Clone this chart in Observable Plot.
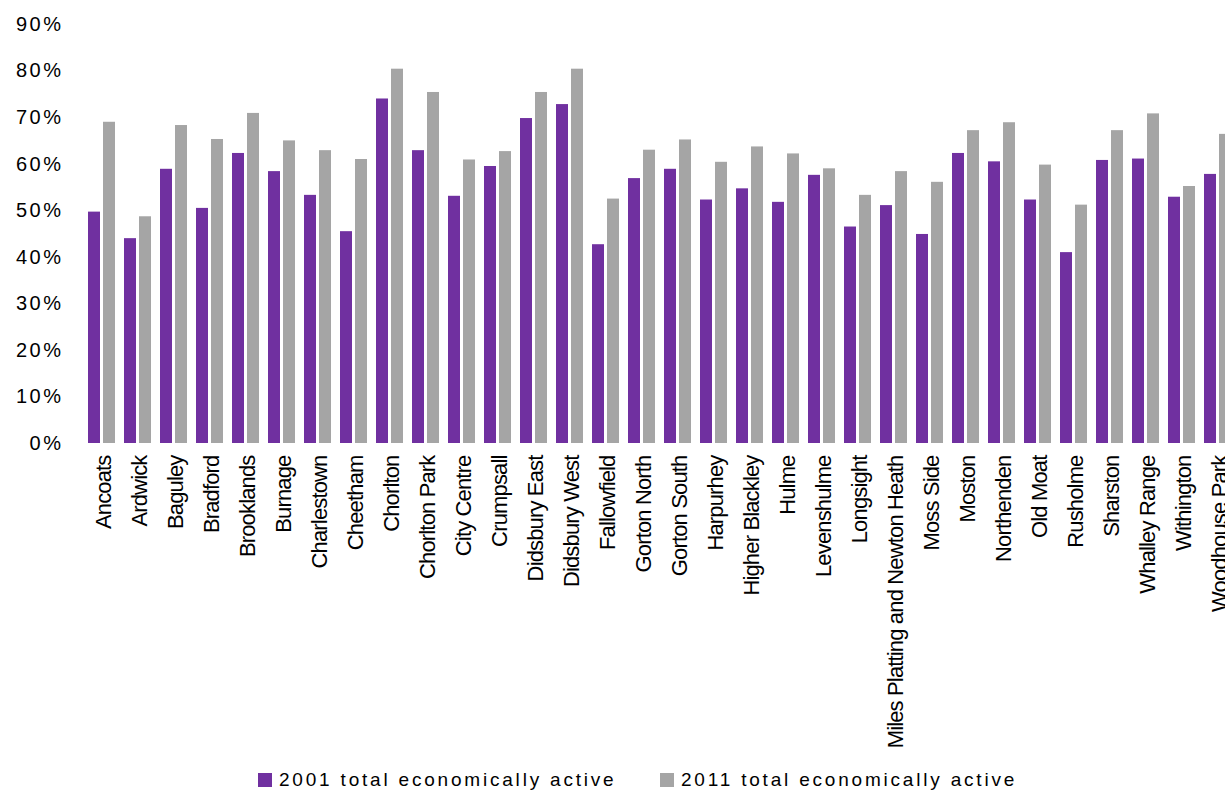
<!DOCTYPE html>
<html>
<head>
<meta charset="utf-8">
<script src="https://cdn.jsdelivr.net/npm/d3@7"></script>
<script src="https://cdn.jsdelivr.net/npm/@observablehq/plot@0.6"></script>
<style>
  html, body { margin: 0; padding: 0; background: #fff; }
  #wrap { position: relative; width: 1225px; height: 791px; overflow: hidden; font-family: "Liberation Sans", Arial, sans-serif; }
  #chart svg { display: block; }
  g[aria-label="y-axis tick label"] text { letter-spacing: 2.5px; }
  g[aria-label="text"] text { letter-spacing: -0.85px; }
  .legend { position: absolute; top: 769px; font-size: 19px; letter-spacing: 2.8px; color: #000; white-space: nowrap; line-height: 22px; }
  .legend .sw { display: inline-block; width: 14px; height: 14px; margin-right: 7px; vertical-align: -1px; }
</style>
</head>
<body>
<div id="wrap">
  <div id="chart"></div>
  <div class="legend" style="left:258px"><span class="sw" style="background:#7030A0"></span>2001 total economically active</div>
  <div class="legend" style="left:660px"><span class="sw" style="background:#A5A5A5"></span>2011 total economically active</div>
</div>
<script>
const wards = ["Ancoats","Ardwick","Baguley","Bradford","Brooklands","Burnage","Charlestown","Cheetham","Chorlton","Chorlton Park","City Centre","Crumpsall","Didsbury East","Didsbury West","Fallowfield","Gorton North","Gorton South","Harpurhey","Higher Blackley","Hulme","Levenshulme","Longsight","Miles Platting and Newton Heath","Moss Side","Moston","Northenden","Old Moat","Rusholme","Sharston","Whalley Range","Withington","Woodhouse Park"];
const active2001 = [49.7,44.0,58.9,50.5,62.3,58.4,53.3,45.5,74.0,62.9,53.1,59.5,69.8,72.8,42.7,56.9,58.9,52.3,54.7,51.8,57.6,46.5,51.1,44.9,62.3,60.5,52.3,41.0,60.8,61.1,52.9,57.8];
const active2011 = [69.0,48.7,68.3,65.3,70.9,65.0,62.9,61.0,80.4,75.4,60.9,62.7,75.4,80.4,52.5,63.0,65.2,60.4,63.7,62.2,59.0,53.3,58.4,56.1,67.2,68.9,59.8,51.2,67.2,70.8,55.2,66.4];
const yTicks = [0,0.1,0.2,0.3,0.4,0.5,0.6,0.7,0.8,0.9];

const rows = wards.map((w, i) => ({ward: w, v2001: active2001[i] / 100, v2011: active2011[i] / 100}));

const chart = Plot.plot({
  width: 1225,
  height: 766,
  marginTop: 24,
  marginBottom: 323,
  marginLeft: 81,
  marginRight: 0,
  style: {fontFamily: "Liberation Sans, Arial, sans-serif", color: "#000", background: "#fff", overflow: "visible"},
  x: {type: "band", domain: wards, range: [81, 1236.2], padding: 0, axis: null},
  y: {domain: [0, 0.9], axis: null},
  marks: [
    Plot.ruleY(yTicks.filter(d => d > 0), {x1: 81, x2: 1225, stroke: "#cfcfcf", strokeWidth: 1.6}),
    Plot.barY(rows, {x: "ward", y: "v2001", fill: "#7030A0", insetLeft: 5, insetRight: 19}),
    Plot.barY(rows, {x: "ward", y: "v2011", fill: "#A5A5A5", insetLeft: 20, insetRight: 4}),
    Plot.ruleY([0], {x1: 81, x2: 1225, stroke: "#8a8a8a", strokeWidth: 2}),
    Plot.axisY(yTicks, {tickSize: 0, tickPadding: 0, dx: -18, fontSize: 20, tickFormat: d3.format(".0%"), fill: "#000"}),
    Plot.text(wards, {x: d => d, frameAnchor: "bottom", rotate: -90, textAnchor: "end", lineAnchor: "middle", dy: 12, dx: 2, fontSize: 22, fill: "#000"})
  ]
});
document.getElementById("chart").appendChild(chart);
</script>
</body>
</html>
